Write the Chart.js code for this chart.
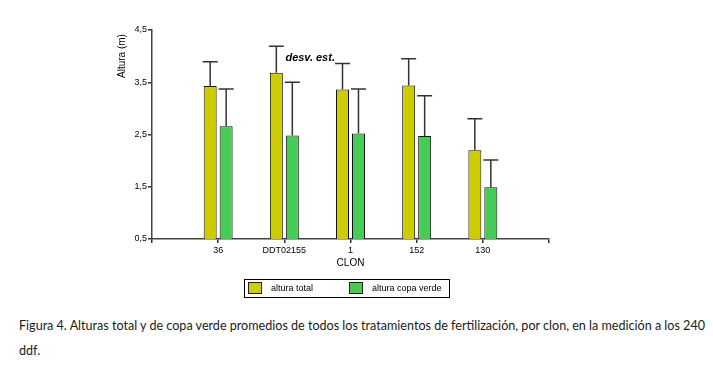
<!DOCTYPE html>
<html>
<head>
<meta charset="utf-8">
<script src="https://cdn.jsdelivr.net/npm/chart.js@4.4.1/dist/chart.umd.min.js"></script>
<style>
  html, body { margin: 0; padding: 0; background: #fff; }
  #wrap { position: relative; width: 713px; height: 369px; overflow: hidden; }
  #chart { position: absolute; left: 0; top: 0; }
  .cap { position: absolute; left: 19px; font-family: Lato, "Open Sans", sans-serif; font-size: 13px; color: #1a1a1a; white-space: nowrap; transform-origin: 0 50%; }
</style>
</head>
<body>
<div id="wrap">
  <canvas id="chart" width="713" height="305"></canvas>
  <div class="cap" id="cap1" style="top:317px;">Figura 4. Alturas total y de copa verde promedios de todos los tratamientos de fertilización, por clon, en la medición a los 240</div>
  <div class="cap" id="cap2" style="top:342px;">ddf.</div>
</div>
<script>
// ---- data ----
const categories = ['', '36', 'DDT02155', '1', '152', '130', ''];
const alturaTotal = [null, 3.43, 3.68, 3.36, 3.44, 2.20, null];
const alturaTotalSD = [null, 0.46, 0.51, 0.50, 0.51, 0.60, null];
const alturaCopa = [null, 2.66, 2.48, 2.52, 2.47, 1.49, null];
const alturaCopaSD = [null, 0.71, 1.02, 0.85, 0.77, 0.52, null];
const yTicks = [0.5, 1.5, 2.5, 3.5, 4.5];
const seriesNames = ['altura total', 'altura copa verde'];
const yTitle = 'Altura (m)';
const xTitle = 'CLON';
const annotationText = 'desv. est.';

const errorBars = {
  id: 'errorBars',
  afterDatasetsDraw(chart) {
    const ctx = chart.ctx;
    const ys = chart.scales.y;
    chart.data.datasets.forEach((ds, di) => {
      const meta = chart.getDatasetMeta(di);
      meta.data.forEach((bar, i) => {
        const v = ds.data[i], sd = ds.sd[i];
        if (v == null || sd == null) return;
        const x = bar.x;
        const yTop = ys.getPixelForValue(v + sd);
        ctx.save();
        ctx.strokeStyle = '#333';
        ctx.lineWidth = 1.5;
        ctx.beginPath();
        ctx.moveTo(x, bar.y);
        ctx.lineTo(x, yTop);
        ctx.moveTo(x - 7.5, yTop);
        ctx.lineTo(x + 7.5, yTop);
        ctx.stroke();
        ctx.restore();
      });
    });
  }
};

const extras = {
  id: 'extras',
  afterDraw(chart) {
    const ctx = chart.ctx;
    ctx.save();
    // y title
    ctx.fillStyle = '#000';
    ctx.font = '10px "Liberation Sans", Arial, sans-serif';
    ctx.textAlign = 'center';
    ctx.textBaseline = 'middle';
    ctx.translate(122, 56);
    ctx.rotate(-Math.PI / 2);
    ctx.fillText(yTitle, 0, 0);
    ctx.restore();

    // annotation
    ctx.save();
    ctx.fillStyle = '#000';
    ctx.font = 'italic bold 11px "Liberation Sans", Arial, sans-serif';
    ctx.textAlign = 'left';
    ctx.textBaseline = 'alphabetic';
    const xs = chart.scales.x;
    const ax = (xs.getPixelForValue(2) + xs.getPixelForValue(3)) / 2 - 32;
    ctx.fillText(annotationText, ax, chart.scales.y.getPixelForValue(3.9));
    ctx.restore();

    // legend
    ctx.save();
    const lx = 244, ly = 279, lw = 205, lh = 18;
    ctx.strokeStyle = '#000';
    ctx.lineWidth = 1;
    ctx.strokeRect(lx + 0.5, ly + 0.5, lw, lh);
    const items = [{x: 248, tx: 271}, {x: 349, tx: 372}];
    ctx.font = '9px "Liberation Sans", Arial, sans-serif';
    ctx.textBaseline = 'middle';
    ctx.textAlign = 'left';
    chart.data.datasets.forEach((ds, i) => {
      const it = items[i];
      ctx.fillStyle = ds.backgroundColor;
      ctx.fillRect(it.x, ly + 3, 14, 12);
      ctx.strokeStyle = '#222';
      ctx.strokeRect(it.x + 0.5, ly + 3.5, 13, 11);
      ctx.fillStyle = '#000';
      ctx.fillText(ds.label, it.tx, ly + lh / 2 + 0.5);
    });
    ctx.restore();
  }
};

new Chart(document.getElementById('chart'), {
  type: 'bar',
  data: {
    labels: categories,
    datasets: [
      { label: seriesNames[0], data: alturaTotal, sd: alturaTotalSD, backgroundColor: '#cccc00', borderColor: '#111', borderWidth: 1 },
      { label: seriesNames[1], data: alturaCopa, sd: alturaCopaSD, backgroundColor: '#44cc55', borderColor: '#111', borderWidth: 1 }
    ]
  },
  options: {
    responsive: false,
    animation: false,
    devicePixelRatio: 1,
    categoryPercentage: 0.483,
    barPercentage: 0.8125,
    layout: { padding: { left: 112, right: 164, top: 30, bottom: 36 } },
    plugins: { legend: { display: false }, tooltip: { enabled: false } },
    scales: {
      x: {
        offset: false,
        afterFit(s) { s.height = 30; },
        grid: { offset: false, drawOnChartArea: false, drawTicks: true, tickLength: 4, color: '#333', lineWidth: 1.5 },
        border: { color: '#444', width: 1.5 },
        ticks: { color: '#000', padding: 2, maxRotation: 0, autoSkip: false, font: { family: '"Liberation Sans", Arial, sans-serif', size: 9 } },
        title: { display: true, text: xTitle, color: '#000', padding: { top: 0, bottom: 0 }, font: { family: '"Liberation Sans", Arial, sans-serif', size: 10 } }
      },
      y: {
        min: 0.5, max: 4.5,
        afterFit(s) { s.width = 40; },
        afterBuildTicks(s) { s.ticks = yTicks.map(v => ({ value: v })); },
        grid: { drawOnChartArea: false, drawTicks: true, tickLength: 4, color: '#333', lineWidth: 1.5 },
        border: { color: '#444', width: 1.5 },
        ticks: { color: '#000', padding: 1, callback: v => String(v).replace('.', ','), font: { family: '"Liberation Sans", Arial, sans-serif', size: 9 } }
      }
    }
  },
  plugins: [errorBars, extras]
});

// fit caption width to the reference line length
const c1 = document.getElementById('cap1');
const w = c1.getBoundingClientRect().width;
const target = 686;
const sx = target / w;
c1.style.transform = 'scaleX(' + sx + ')';
document.getElementById('cap2').style.transform = 'scaleX(' + sx + ')';
</script>
</body>
</html>
